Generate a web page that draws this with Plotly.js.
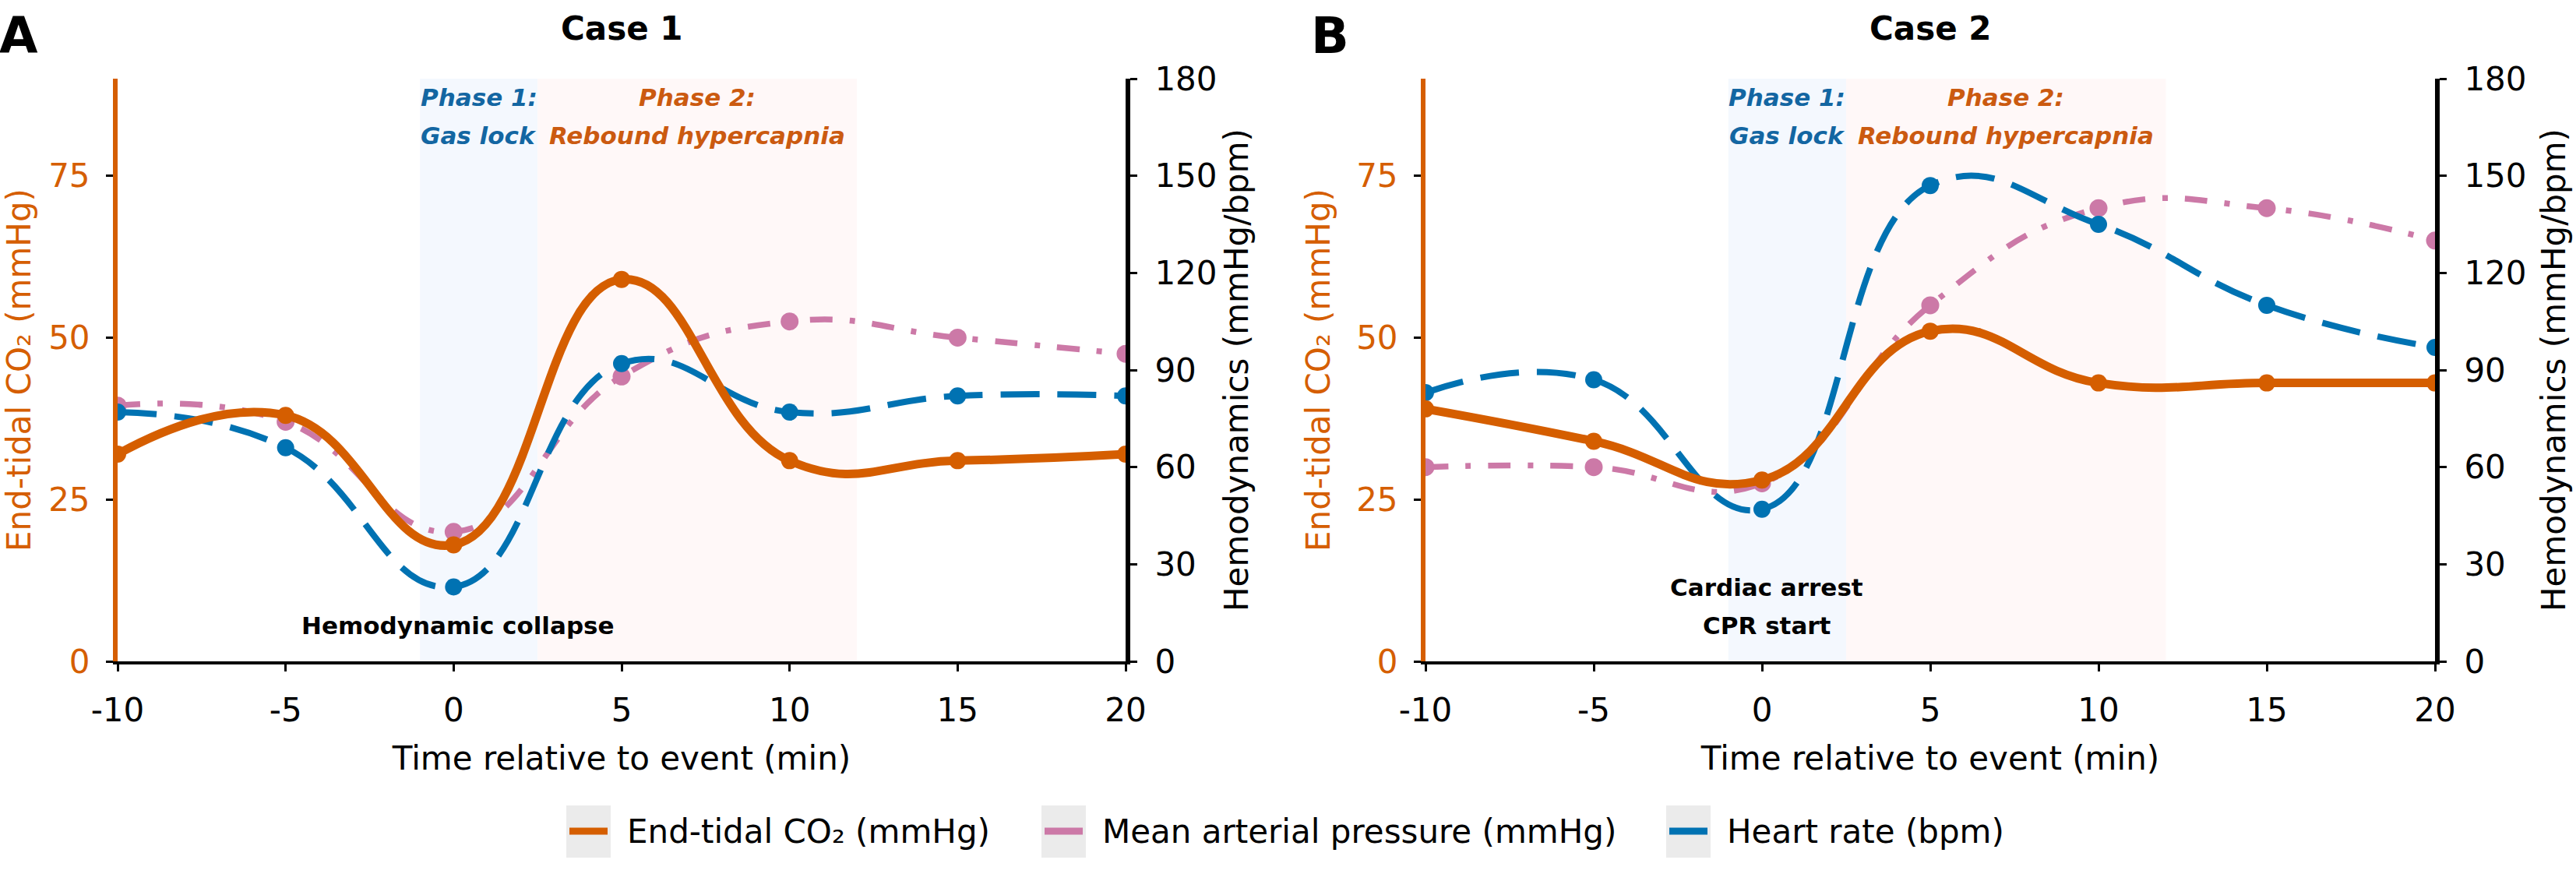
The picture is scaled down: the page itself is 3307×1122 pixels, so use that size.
<!DOCTYPE html>
<html>
<head>
<meta charset="utf-8">
<script src="https://cdn.plot.ly/plotly-3.0.1.min.js"></script>
<style>
  html, body { margin: 0; padding: 0; background: #ffffff; }
  #chart { width: 3307px; height: 1122px; }
</style>
</head>
<body>
<div id="chart"></div>
<script>
// ---------------- data ----------------
const timeMin = [-10, -5, 0, 5, 10, 15, 20];
const xTickVals = [-10, -5, 0, 5, 10, 15, 20];
const xTickText = ['-10', '-5', '0', '5', '10', '15', '20'];
const co2Ticks = [0, 25, 50, 75];
const hemoTicks = [0, 30, 60, 90, 120, 150, 180];

const case1EtCO2 = [32, 38, 18, 59, 31, 31, 32];
const case1MAP   = [79, 74, 40, 88, 105, 100, 95];
const case1HR    = [77, 66, 23, 92, 77, 82, 82];

const case2EtCO2 = [39, 34, 28, 51, 43, 43, 43];
const case2MAP   = [60, 60, 55, 110, 140, 140, 130];
const case2HR    = [83, 87, 47, 147, 135, 110, 97];

const seriesNames = ['End-tidal CO₂ (mmHg)', 'Mean arterial pressure (mmHg)', 'Heart rate (bpm)'];
const caseTitles = ['Case 1', 'Case 2'];
const panelLetters = ['A', 'B'];
const phase1Window = [-1, 2.5];
const phase2Window = [2.5, 12];
const phase1Label = ['Phase 1:', 'Gas lock'];
const phase2Label = ['Phase 2:', 'Rebound hypercapnia'];
const case1EventLabel = ['Hemodynamic collapse'];
const case2EventLabel = ['Cardiac arrest', 'CPR start'];
const eventTime = 0;

// ---------------- styles ----------------
const W = 3307, H = 1122;
const ORANGE = '#D55E00', PINK = '#CC79A7', BLUE = '#0072B2';
const FONT = 'DejaVu Sans, Verdana, sans-serif';
const px = v => v / W;
const py = v => 1 - v / H;

const yDom = [py(849), py(101)];
const xDomA = [px(151), px(1445)];
const xDomB = [px(1830), px(3126)];

function mk(x, y, name, xa, ya, color, width, dash, msize) {
  return {
    x: x, y: y, name: name, xaxis: xa, yaxis: ya,
    type: 'scatter', mode: 'lines+markers', showlegend: false,
    line: {color: color, width: width, dash: dash, shape: 'spline', smoothing: 1.3},
    marker: {color: color, size: msize},
    hoverinfo: 'x+y'
  };
}

const traces = [
  mk(timeMin, case1MAP, seriesNames[1], 'x', 'y', PINK, 7.5, '29px,22px,7px,22px', 23),
  mk(timeMin, case1HR, seriesNames[2], 'x', 'y', BLUE, 8, '50px,23px', 22),
  mk(timeMin, case1EtCO2, seriesNames[0], 'x', 'y2', ORANGE, 11, 'solid', 22),
  mk(timeMin, case2MAP, seriesNames[1], 'x2', 'y3', PINK, 7.5, '29px,22px,7px,22px', 23),
  mk(timeMin, case2HR, seriesNames[2], 'x2', 'y3', BLUE, 8, '50px,23px', 22),
  mk(timeMin, case2EtCO2, seriesNames[0], 'x2', 'y4', ORANGE, 11, 'solid', 22)
];

function xAxis(dom, anchor) {
  return {
    domain: dom, anchor: anchor, range: [-10, 20],
    tickmode: 'array', tickvals: xTickVals, ticktext: xTickText,
    ticks: 'outside', ticklen: 9, tickwidth: 3, tickcolor: '#000',
    ticklabelstandoff: 14,
    showline: true, linecolor: '#000', linewidth: 4,
    showgrid: false, zeroline: false,
    tickfont: {family: FONT, size: 42, color: '#000'},
    title: {text: 'Time relative to event (min)', font: {family: FONT, size: 42, color: '#000'}}
  };
}
function hemoAxis(dom, anchor, standoff) {
  return {
    domain: dom, anchor: anchor, side: 'right', range: [0, 180],
    tickmode: 'array', tickvals: hemoTicks,
    ticks: 'outside', ticklen: 9, tickwidth: 3, tickcolor: '#000',
    ticklabelstandoff: 14,
    showline: true, linecolor: '#000', linewidth: 6,
    showgrid: false, zeroline: false, automargin: true,
    tickfont: {family: FONT, size: 42, color: '#000'},
    title: {text: 'Hemodynamics (mmHg/bpm)', font: {family: FONT, size: 42, color: '#000'}, standoff: standoff}
  };
}
function co2Axis(overlay, anchor, standoff) {
  return {
    overlaying: overlay, anchor: anchor, side: 'left', range: [0, 90],
    tickmode: 'array', tickvals: co2Ticks,
    ticks: 'outside', ticklen: 9, tickwidth: 3, tickcolor: '#000',
    ticklabelstandoff: 12,
    showline: true, linecolor: ORANGE, linewidth: 6,
    showgrid: false, zeroline: false, automargin: true,
    tickfont: {family: FONT, size: 42, color: ORANGE},
    title: {text: 'End-tidal CO₂ (mmHg)', font: {family: FONT, size: 42, color: ORANGE}, standoff: standoff}
  };
}

const shapes = [];
[['x', 'y'], ['x2', 'y3']].forEach(([xa, ya]) => {
  shapes.push({type: 'rect', layer: 'below', xref: xa, yref: ya + ' domain',
    x0: phase1Window[0], x1: phase1Window[1], y0: 0, y1: 1,
    fillcolor: '#F4F8FE', line: {width: 0}});
  shapes.push({type: 'rect', layer: 'below', xref: xa, yref: ya + ' domain',
    x0: phase2Window[0], x1: phase2Window[1], y0: 0, y1: 1,
    fillcolor: '#FFF8F8', line: {width: 0}});
});

const annotations = [];
// panel letters and case titles
[[24, 'x'], [1708, 'x2']].forEach(([lx, xa], i) => {
  annotations.push({text: panelLetters[i], xref: 'paper', yref: 'paper', x: px(lx), y: py(46),
    xanchor: 'center', yanchor: 'middle', showarrow: false,
    font: {family: FONT, size: 64, color: '#000', weight: 'bold'}});
  annotations.push({text: caseTitles[i], xref: xa + ' domain', yref: 'paper', x: 0.5, y: py(36),
    xanchor: 'center', yanchor: 'middle', showarrow: false,
    font: {family: FONT, size: 42, color: '#000', weight: 'bold'}});
});
// phase labels
const phaseColors = ['#1366A2', '#CB5A10'];
['x', 'x2'].forEach(xa => {
  [[phase1Window, phase1Label, phaseColors[0]], [phase2Window, phase2Label, phaseColors[1]]].forEach(([win, lab, col]) => {
    lab.forEach((t, k) => {
      annotations.push({text: t, xref: xa, yref: 'paper', x: (win[0] + win[1]) / 2, y: py(k === 0 ? 125 : 174),
        xanchor: 'center', yanchor: 'middle', showarrow: false,
        font: {family: FONT, size: 31, color: col, weight: 'bold', style: 'italic'}});
    });
  });
});
// event labels
case1EventLabel.forEach((t, k) => {
  annotations.push({text: t, xref: 'x', yref: 'paper', x: eventTime, xshift: 6, y: py(803),
    xanchor: 'center', yanchor: 'middle', showarrow: false,
    font: {family: FONT, size: 31, color: '#000', weight: 'bold'}});
});
case2EventLabel.forEach((t, k) => {
  annotations.push({text: t, xref: 'x2', yref: 'paper', x: eventTime, xshift: 6, y: py(k === 0 ? 754 : 803),
    xanchor: 'center', yanchor: 'middle', showarrow: false,
    font: {family: FONT, size: 31, color: '#000', weight: 'bold'}});
});
// legend (keys + labels)
const legendColors = [ORANGE, PINK, BLUE];
const legendKeyLeft = [727, 1337, 2139];
legendColors.forEach((c, i) => {
  const x0 = legendKeyLeft[i];
  shapes.push({type: 'rect', xref: 'paper', yref: 'paper', x0: px(x0), x1: px(x0 + 57), y0: py(1101), y1: py(1034),
    fillcolor: '#EBEBEB', line: {width: 0}});
  shapes.push({type: 'line', xref: 'paper', yref: 'paper', x0: px(x0 + 4), x1: px(x0 + 53), y0: py(1067), y1: py(1067),
    line: {color: c, width: 9}});
  annotations.push({text: seriesNames[i], xref: 'paper', yref: 'paper', x: px(x0 + 76), y: py(1067),
    xanchor: 'left', yanchor: 'middle', showarrow: false,
    font: {family: FONT, size: 42, color: '#000'}});
});

const layout = {
  width: W, height: H,
  margin: {l: 0, r: 0, t: 0, b: 0, pad: 0, autoexpand: false},
  paper_bgcolor: '#ffffff', plot_bgcolor: 'rgba(0,0,0,0)',
  showlegend: false,
  font: {family: FONT, size: 42, color: '#000'},
  xaxis: xAxis(xDomA, 'y'),
  xaxis2: xAxis(xDomB, 'y3'),
  yaxis: hemoAxis(yDom, 'x', 8),
  yaxis2: co2Axis('y', 'x', 22),
  yaxis3: hemoAxis(yDom, 'x2', 23),
  yaxis4: co2Axis('y3', 'x2', 22),
  shapes: shapes,
  annotations: annotations
};

Plotly.newPlot('chart', traces, layout, {staticPlot: true, displayModeBar: false});
</script>
</body>
</html>
